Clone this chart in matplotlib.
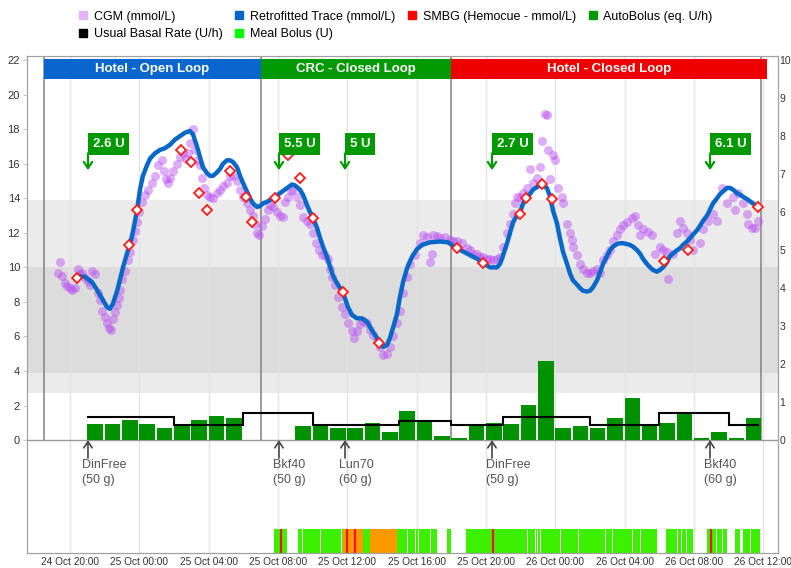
import matplotlib
matplotlib.use('Agg')
import matplotlib.pyplot as plt
import matplotlib.dates as mdates
from matplotlib.lines import Line2D
import numpy as np
from datetime import datetime

plt.rcParams['font.family'] = 'Liberation Sans'

# time is given in hours after 24 Oct 20:00
start = mdates.date2num(datetime(2015, 10, 24, 20, 0))


def when(hours):
    return start + np.asarray(hours, dtype=float) / 24


# CGM readings (mmol/L)
cgm_hours = [-0.69, -0.58, -0.46, -0.29, -0.17, 0.0, 0.12, 0.29, 0.46, 0.58,
             0.69, 0.87, 1.04, 1.15, 1.27, 1.44, 1.62, 1.73, 1.85, 2.02,
             2.14, 2.25, 2.37, 2.48, 2.60, 2.71, 2.83, 2.89, 3.00, 3.17,
             3.35, 3.46, 3.64, 3.75, 3.87, 3.98, 4.15, 4.33, 4.50, 4.73,
             4.90, 5.08, 5.31, 5.42, 5.54, 5.66, 5.77, 5.94, 6.17, 6.35,
             6.52, 6.69, 6.81, 6.92, 7.10, 7.21, 7.33, 7.50, 7.62, 7.73,
             7.91, 8.08, 8.25, 8.48, 8.66, 8.83, 9.06, 9.23, 9.41, 9.64,
             9.81, 9.98, 10.21, 10.39, 10.56, 10.68, 10.79, 10.91, 11.08, 11.25,
             11.43, 11.54, 11.71, 11.94, 12.12, 12.29, 12.41, 12.58, 12.75, 12.87,
             13.10, 13.27, 13.45, 13.68, 13.85, 14.02, 14.19, 14.37, 14.54, 14.71,
             14.89, 15.00, 15.12, 15.29, 15.46, 15.70, 15.87, 16.04, 16.27, 16.39,
             16.56, 16.73, 16.91, 17.14, 17.31, 17.48, 17.72, 17.89, 18.06, 18.29,
             18.46, 18.64, 18.87, 19.04, 19.22, 19.45, 19.62, 19.91, 20.20, 20.37,
             20.60, 20.77, 20.89, 20.95, 21.18, 21.35, 21.64, 21.93, 22.10, 22.33,
             22.62, 22.91, 23.08, 23.25, 23.49, 23.66, 23.83, 24.06, 24.24, 24.41,
             24.64, 24.81, 24.99, 25.22, 25.39, 25.56, 25.68, 25.79, 25.97, 26.14,
             26.37, 26.54, 26.72, 26.95, 27.12, 27.24, 27.41, 27.52, 27.58, 27.70,
             27.87, 27.99, 28.16, 28.39, 28.45, 28.68, 28.85, 28.97, 29.02, 29.26,
             29.43, 29.60, 29.83, 30.01, 30.18, 30.41, 30.58, 30.76, 30.99, 31.16,
             31.33, 31.56, 31.74, 31.91, 32.14, 32.43, 32.60, 32.78, 32.89, 33.06,
             33.35, 33.58, 33.76, 34.04, 34.22, 34.45, 34.51, 34.80, 35.03, 35.20,
             35.37, 35.60, 35.78, 35.95, 36.35, 36.53, 36.81, 37.10, 37.33, 37.62,
             37.91, 38.26, 38.37, 38.55, 38.83, 39.07, 39.12, 39.35, 39.53, 39.70]
cgm_values = [9.7, 10.3, 9.5, 9.1, 8.9, 8.8, 8.7, 8.8, 9.9, 9.6,
              9.7, 9.4, 9.2, 9.0, 9.8, 9.6, 8.5, 8.1, 7.5, 7.1,
              6.8, 6.5, 6.4, 7.0, 7.4, 7.8, 8.2, 8.7, 9.3, 9.8,
              10.4, 10.9, 11.6, 12.1, 12.6, 13.2, 13.8, 14.2, 14.5, 14.9,
              15.3, 15.9, 16.2, 15.6, 15.1, 14.9, 15.2, 15.6, 16.0, 16.4,
              16.6, 16.3, 16.6, 17.2, 18.0, 16.8, 16.2, 15.9, 15.2, 14.6,
              14.2, 14.1, 14.0, 14.3, 14.5, 14.7, 14.9, 15.3, 15.3, 15.0,
              14.5, 14.1, 13.7, 13.3, 13.0, 12.5, 12.0, 11.9, 12.4, 12.8,
              13.3, 13.6, 13.5, 13.2, 13.0, 12.9, 13.8, 14.1, 14.4, 14.5,
              14.1, 13.6, 12.9, 12.7, 12.5, 12.0, 11.4, 11.0, 10.7, 10.7,
              10.5, 9.9, 9.45, 9.0, 8.3, 7.7, 7.3, 6.8, 6.3, 5.9,
              6.3, 6.7, 6.9, 6.8, 6.4, 6.1, 5.8, 5.4, 4.9, 5.0,
              5.4, 6.0, 6.8, 7.5, 8.5, 9.45, 10.2, 10.7, 11.4, 11.9,
              11.75, 10.3, 10.8, 11.9, 11.8, 11.7, 11.75, 11.6, 11.5, 11.5,
              11.4, 11.1, 11.0, 10.8, 10.8, 10.6, 10.6, 10.5, 10.5, 10.4,
              10.5, 10.6, 11.2, 12.0, 12.5, 13.1, 13.7, 14.1, 14.1, 14.3,
              14.6, 15.7, 14.9, 15.2, 15.8, 17.3, 18.9, 18.8, 16.8, 15.1,
              16.5, 16.2, 14.6, 14.1, 13.7, 12.5, 12.0, 11.6, 11.2, 10.7,
              10.2, 9.9, 9.7, 9.7, 9.8, 9.9, 9.65, 10.4, 10.7, 11.0,
              11.5, 11.9, 12.2, 12.45, 12.6, 12.85, 13.0, 12.45, 11.9, 12.2,
              12.05, 11.9, 10.8, 11.2, 11.0, 10.9, 9.3, 10.8, 12.0, 12.7,
              12.3, 12.0, 11.6, 11.0, 11.4, 12.2, 12.7, 13.1, 12.7, 14.6,
              13.7, 14.1, 13.3, 14.3, 13.7, 13.1, 12.5, 12.3, 12.3, 12.7]

# retrofitted trace (mmol/L)
trace_hours = [0.46, 0.87, 1.27, 1.56, 1.85, 2.14, 2.31, 2.48, 2.71, 2.89,
               3.06, 3.29, 3.46, 3.64, 3.87, 4.04, 4.21, 4.44, 4.62, 4.90,
               5.19, 5.48, 5.77, 6.06, 6.35, 6.64, 6.92, 7.10, 7.33, 7.50,
               7.67, 7.91, 8.08, 8.25, 8.48, 8.66, 8.83, 9.06, 9.23, 9.41,
               9.64, 9.81, 9.98, 10.21, 10.39, 10.56, 10.79, 10.96, 11.14, 11.37,
               11.71, 12.12, 12.52, 12.81, 12.98, 13.27, 13.45, 13.68, 13.85, 14.02,
               14.25, 14.43, 14.60, 14.83, 15.18, 15.46, 15.75, 16.04, 16.27, 16.56,
               16.85, 17.14, 17.43, 17.72, 17.89, 18.06, 18.29, 18.46, 18.64, 18.87,
               19.04, 19.22, 19.45, 19.73, 20.02, 20.31, 20.77, 21.35, 21.81, 22.33,
               22.91, 23.49, 23.83, 24.24, 24.64, 24.81, 24.99, 25.22, 25.39, 25.56,
               25.79, 25.97, 26.14, 26.37, 26.54, 26.72, 26.95, 27.12, 27.29, 27.52,
               27.70, 27.87, 28.10, 28.27, 28.45, 28.68, 28.85, 29.02, 29.26, 29.43,
               29.60, 29.83, 30.01, 30.18, 30.41, 30.58, 30.76, 30.99, 31.16, 31.33,
               31.56, 31.74, 31.91, 32.14, 32.31, 32.49, 32.72, 32.89, 33.06, 33.29,
               33.47, 33.64, 33.87, 34.04, 34.22, 34.45, 34.62, 34.80, 35.03, 35.20,
               35.37, 35.60, 35.78, 35.95, 36.18, 36.35, 36.53, 36.76, 36.93, 37.10,
               37.33, 37.51, 37.68, 37.91, 38.09, 38.26, 38.49, 38.66, 39.07, 39.41,
               39.70]
trace_values = [9.5, 9.45, 9.15, 8.7, 8.2, 7.7, 7.6, 7.9, 8.6, 9.3,
                10.0, 10.8, 11.3, 12.1, 13.3, 14.5, 15.3, 15.9, 16.3, 16.6,
                16.8, 16.9, 17.1, 17.4, 17.6, 17.8, 17.9, 17.7, 17.0, 16.4,
                15.8, 15.45, 15.3, 15.3, 15.5, 15.7, 16.0, 16.2, 16.2, 16.1,
                15.8, 15.3, 14.9, 14.4, 14.0, 13.7, 13.5, 13.55, 13.7, 13.8,
                14.0, 14.3, 14.6, 14.8, 14.75, 14.5, 14.2, 13.6, 13.2, 12.85,
                12.3, 11.7, 11.2, 10.6, 9.5, 9.0, 8.55, 7.7, 7.25, 7.05,
                7.05, 6.85, 6.35, 5.9, 5.6, 5.4, 5.5, 5.9, 6.5, 7.3,
                8.3, 9.15, 9.95, 10.6, 11.05, 11.3, 11.45, 11.5, 11.45, 11.1,
                10.8, 10.5, 10.25, 10.0, 10.0, 10.2, 10.7, 11.4, 12.0, 12.6,
                13.0, 13.2, 13.7, 14.0, 14.25, 14.5, 14.65, 14.75, 14.75, 14.6,
                14.1, 13.3, 12.55, 11.7, 10.9, 10.2, 9.65, 9.25, 9.0, 8.8,
                8.65, 8.6, 8.65, 8.85, 9.25, 9.7, 10.2, 10.65, 11.0, 11.2,
                11.35, 11.4, 11.4, 11.35, 11.3, 11.2, 11.0, 10.8, 10.5, 10.2,
                10.0, 9.85, 9.75, 9.85, 10.0, 10.3, 10.65, 10.8, 11.0, 11.1,
                11.3, 11.5, 11.7, 11.9, 12.15, 12.4, 12.7, 13.0, 13.35, 13.7,
                14.0, 14.25, 14.4, 14.6, 14.6, 14.5, 14.3, 14.2, 13.95, 13.7,
                13.5]

# SMBG (Hemocue)
smbg_hours = [0.40, 3.40, 3.87, 6.41, 6.98, 7.44, 7.91, 9.23, 10.16, 10.50,
              11.83, 12.58, 13.27, 14.02, 15.75, 17.83, 22.33, 23.83, 25.97, 26.31,
              27.24, 27.81, 34.28, 35.66, 39.70]
smbg_values = [9.4, 11.3, 13.3, 16.8, 16.1, 14.3, 13.3, 15.6, 14.1, 12.6,
               14.0, 16.5, 15.2, 12.85, 8.55, 5.6, 11.1, 10.25, 13.1, 14.0,
               14.8, 13.95, 10.35, 11.0, 13.5]

# hourly AutoBolus (eq. U/h), hour = start of the hour
auto_hours = [1, 2, 3, 4, 5, 6, 7, 8, 9,
              13, 14, 15, 16, 17, 18, 19, 20, 21, 22,
              23, 24, 25, 26, 27, 28, 29, 30, 31, 32,
              33, 34, 35, 36, 37, 38, 39]
auto_values = [0.42, 0.42, 0.52, 0.42, 0.31, 0.40, 0.52, 0.63, 0.57,
               0.37, 0.37, 0.31, 0.31, 0.46, 0.22, 0.77, 0.49, 0.11, 0.06,
               0.37, 0.45, 0.41, 0.92, 2.07, 0.31, 0.37, 0.31, 0.57, 1.12,
               0.38, 0.46, 0.70, 0.06, 0.22, 0.06, 0.57]

# usual basal rate (U/h)
basal_edges = [1, 6, 10, 14, 19, 22, 25, 30, 34, 38, 39.75]
basal_rates = [0.6, 0.4, 0.7, 0.4, 0.5, 0.4, 0.6, 0.4, 0.7, 0.4]

# meals and meal boluses
meal_hours = [1.04, 12.06, 15.87, 24.35, 36.93]
meal_names = ['DinFree', 'Bkf40', 'Lun70', 'DinFree', 'Bkf40']
meal_carbs = [50, 50, 60, 50, 60]
meal_bolus = [2.6, 5.5, 5, 2.7, 6.1]

# study sessions
session_names = ['Hotel - Open Loop', 'CRC - Closed Loop', 'Hotel - Closed Loop']
session_starts = [-1.5, 11, 22]
session_ends = [11, 22, 40.2]
session_colors = ['#0a66cc', '#009a00', '#ee0000']
session_lines = [-1.5, 11, 22, 39.87]

# system status strip
status_starts = [11.77, 13.16, 15.75, 16.91, 17.31, 18.87, 21.75, 22.85, 34.39, 36.76, 38.37, 38.83]
status_ends = [12.52, 15.75, 16.91, 17.31, 18.87, 21.18, 21.99, 33.87, 35.95, 37.91, 38.66, 39.82]
status_kind = ['ok', 'ok', 'warn', 'ok', 'warn', 'ok', 'ok', 'ok', 'ok', 'ok', 'ok', 'ok']
alarm_hours = [12.18, 15.98, 16.45, 24.41, 36.99]
break_hours = [13.40, 14.43, 15.64, 19.45, 19.91, 20.08, 20.77, 26.37, 26.83, 26.95,
               27.12, 28.27, 29.31, 30.87, 31.27, 32.43, 32.89, 35.03, 35.26, 35.55,
               37.28, 37.62, 39.24]

green = '#009a00'
status_colors = {'ok': '#3cf000', 'warn': '#ff9900'}

fig = plt.figure(figsize=(7.91, 5.68), dpi=100)
ax = fig.add_axes([0.0341, 0.0264, 0.9494, 0.875])
ylo, yhi = -6.54, 22.24
ax.set_ylim(ylo, yhi)
ax.set_xlim(when(-2.48), when(40.85))

# target ranges
ax.axhspan(2.75, 13.9, color='#ebebeb', lw=0, zorder=0)
ax.axhspan(3.9, 10, color='#dcdcdc', lw=0, zorder=0)

ax.xaxis.set_major_locator(mdates.HourLocator(byhour=range(0, 24, 4)))
ax.xaxis.set_major_formatter(mdates.DateFormatter('%d %b %H:%M'))
ax.set_axisbelow(True)
ax.grid(axis='x', color='#e2e2e2', lw=1)
ax.axhline(0, color='#999999', lw=1, zorder=1)
ax.vlines(when(session_lines), 0, yhi, color='#8a8a8a', lw=1.2, zorder=1)

for name, s, e, c in zip(session_names, session_starts, session_ends, session_colors):
    ax.fill_between(when([s, e]), 20.9, 22.06, color=c, lw=0, zorder=3)
    ax.text(when((s + e) / 2), 21.48, name, ha='center', va='center',
            color='white', fontsize=9.5, fontweight='bold', zorder=4)

# status strip
ax.broken_barh([(when(s), (e - s) / 24) for s, e in zip(status_starts, status_ends)],
               (ylo, 1.39), facecolors=[status_colors[k] for k in status_kind], zorder=2)
ax.vlines(when(break_hours), ylo, ylo + 1.39, color='white', lw=0.7, zorder=2)
ax.vlines(when(alarm_hours), ylo, ylo + 1.39, color='#ff1010', lw=1.6, zorder=2)

ax.scatter(when(cgm_hours), cgm_values, s=42, color='#b84cf2', alpha=0.45, lw=0, zorder=4)
ax.plot(when(trace_hours), trace_values, color='#0868c8', lw=3.2, zorder=5,
        solid_capstyle='round', solid_joinstyle='round')
ax.plot(when(smbg_hours), smbg_values, ls='none', marker='D', ms=5, mfc='white',
        mec='#ff1a1a', mew=1.3, zorder=6)

# meal bolus flags and meal arrows
for t, b, name, g in zip(meal_hours, meal_bolus, meal_names, meal_carbs):
    ax.annotate('', xy=(when(t), 15.63), xytext=(when(t), 16.6),
                arrowprops=dict(arrowstyle='->,head_length=0.45,head_width=0.3',
                                color=green, lw=1.6, shrinkA=0, shrinkB=0), zorder=7)
    ax.annotate(f'{b:g} U', xy=(when(t), 17.14), xytext=(3.4, 0),
                textcoords='offset points', ha='left', va='center',
                color='white', fontsize=9.5, fontweight='bold', zorder=8,
                bbox=dict(boxstyle='square,pad=0.36', fc=green, ec='none'))
    ax.annotate('', xy=(when(t), 0), xytext=(when(t), -1.04),
                arrowprops=dict(arrowstyle='->,head_length=0.45,head_width=0.3',
                                color='#444444', lw=1.2, shrinkA=0, shrinkB=0))
    ax.annotate(f'{name}\n({g} g)', xy=(when(t), -1.1), xytext=(-4.5, 0),
                textcoords='offset points', ha='left', va='top',
                color='#555555', fontsize=9, linespacing=1.35)

ax2 = ax.twinx()
ax2.set_ylim(ylo / 2.2, yhi / 2.2)
ax2.bar(when(auto_hours), auto_values, width=0.9 / 24, align='edge',
        color='#009100', lw=0, zorder=2)
ax2.stairs(basal_rates, when(basal_edges), baseline=None, color='black', lw=1.5, zorder=3)

ax.set_yticks(range(0, 23, 2))
ax2.set_yticks(range(0, 11))
ax.tick_params(axis='y', length=3, color='#c8c8c8', labelsize=8, labelcolor='#333333', pad=2)
ax2.tick_params(axis='y', length=0, labelsize=7.5, labelcolor='#333333', pad=1)
ax.tick_params(axis='x', length=0, labelsize=7.3, labelcolor='#333333', pad=3)
for a in (ax, ax2):
    for sp in a.spines.values():
        sp.set_color('#a0a0a0')

handles = [
    Line2D([], [], ls='none', marker='s', ms=6, color='#e6b3fa'),
    Line2D([], [], ls='none', marker='s', ms=6, color='black'),
    Line2D([], [], ls='none', marker='s', ms=6, color='#0066cc'),
    Line2D([], [], ls='none', marker='s', ms=6, color='#00ff00'),
    Line2D([], [], ls='none', marker='s', ms=6, color='#ff0000'),
    Line2D([], [], ls='none', marker='s', ms=6, color='#009900'),
]
labels = ['CGM (mmol/L)', 'Usual Basal Rate (U/h)', 'Retrofitted Trace (mmol/L)',
          'Meal Bolus (U)', 'SMBG (Hemocue - mmol/L)', 'AutoBolus (eq. U/h)']
fig.legend(handles, labels, loc='center', bbox_to_anchor=(0.5, 0.955), ncol=4,
           frameon=False, fontsize=9, handlelength=0.7, handletextpad=0.5,
           columnspacing=1.0, labelspacing=0.45)

fig.savefig('out.png', dpi=100)
